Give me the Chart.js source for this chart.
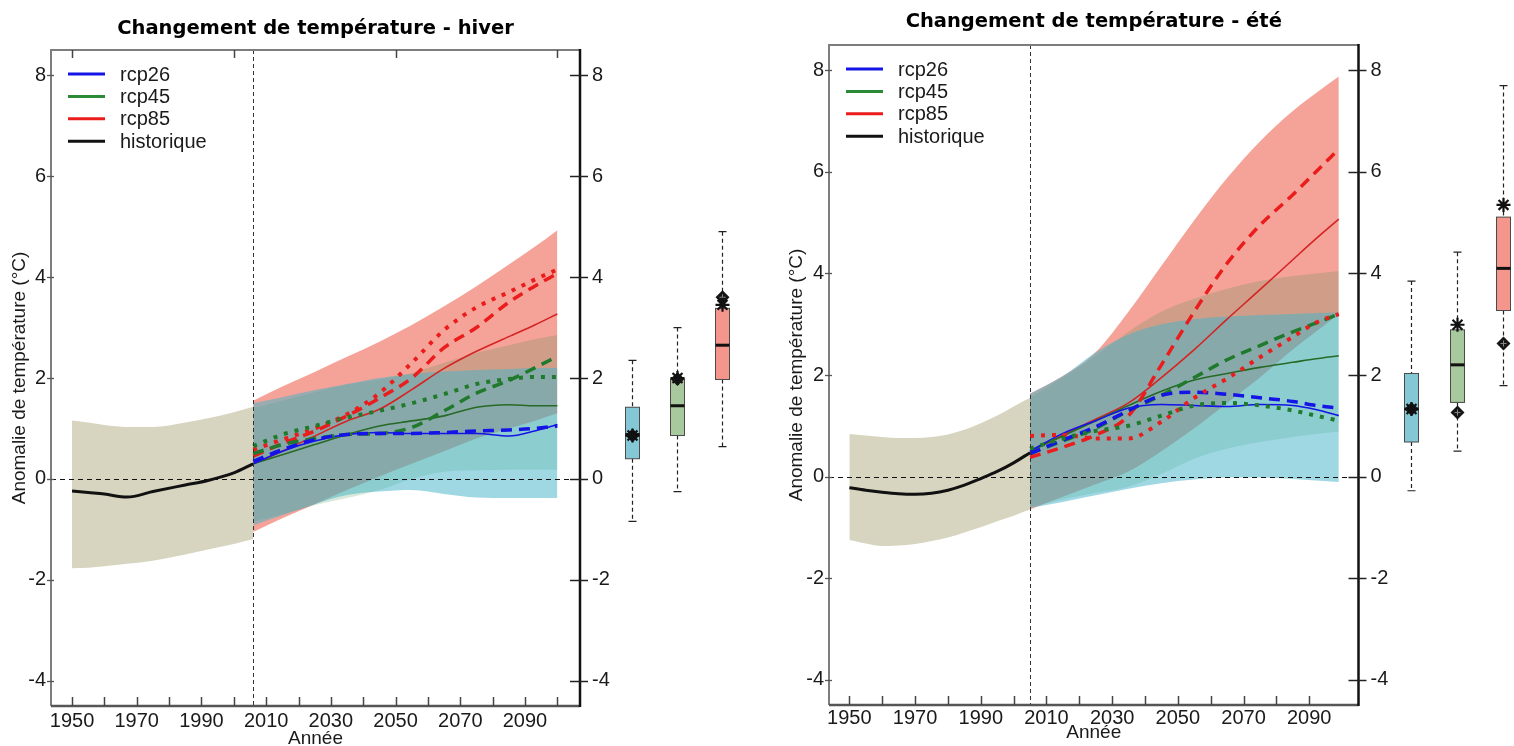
<!DOCTYPE html>
<html>
<head>
<meta charset="utf-8">
<script src="https://cdn.jsdelivr.net/npm/chart.js@4.4.1/dist/chart.umd.min.js"></script>
<style>
html,body{margin:0;padding:0;background:#fff;}
#wrap{position:relative;width:1514px;height:746px;overflow:hidden;background:#fff;}
canvas{position:absolute;top:0;}
</style>
</head>
<body>
<div id="wrap">
<canvas id="c1" width="760" height="746" style="left:0px"></canvas>
<canvas id="c2" width="754" height="746" style="left:760px"></canvas>
</div>
<script>
// ---------- shared labels / ticks ----------
const legendNames = ['rcp26', 'rcp45', 'rcp85', 'historique'];
const xLabelYears = [1950, 1970, 1990, 2010, 2030, 2050, 2070, 2090];
const yTickValues = [-4, -2, 0, 2, 4, 6, 8];
const hiverMinorTicks = [1950, 1960, 1970, 1980, 1990, 2000, 2010, 2020, 2030, 2040, 2050, 2060, 2070, 2080, 2090, 2100];
const eteMinorTicks = [1950, 1960, 1970, 1980, 1990, 2000, 2010, 2020, 2030, 2040, 2050, 2060, 2070, 2080, 2090];
const hiverTopTicks = [1950, 2000, 2050, 2100];
const eteTopTicks = [];
const hiverSplitYear = 2006;
const eteSplitYear = 2005;

// ---------- HIVER ----------
const hiverHistYears = [1950, 1955, 1960, 1967, 1975, 1985, 1992, 2000, 2006];
const hiverHistMean  = [-0.24, -0.27, -0.30, -0.36, -0.25, -0.12, -0.03, 0.12, 0.30];
const hiverHistUpper = [1.16, 1.12, 1.07, 1.03, 1.03, 1.12, 1.20, 1.32, 1.43];
const hiverHistLower = [-1.77, -1.76, -1.73, -1.68, -1.62, -1.50, -1.40, -1.29, -1.19];

const hiverFutYears   = [2006, 2015, 2025, 2035, 2045, 2055, 2065, 2075, 2085, 2093, 2100];
const hiverRcp26Mean  = [0.30, 0.55, 0.75, 0.88, 0.92, 0.90, 0.90, 0.90, 0.85, 0.95, 1.08];
const hiverRcp26Dash  = [0.35, 0.58, 0.78, 0.88, 0.90, 0.90, 0.92, 0.95, 0.97, 1.00, 1.05];
const hiverRcp26Upper = [1.50, 1.62, 1.76, 1.88, 2.00, 2.08, 2.13, 2.16, 2.18, 2.20, 2.20];
const hiverRcp26Lower = [-0.92, -0.72, -0.50, -0.32, -0.25, -0.22, -0.30, -0.37, -0.38, -0.38, -0.38];
const hiverRcp45Mean  = [0.30, 0.48, 0.68, 0.88, 1.05, 1.15, 1.25, 1.42, 1.47, 1.45, 1.45];
const hiverRcp45Dash  = [0.50, 0.68, 0.80, 0.88, 0.90, 1.02, 1.35, 1.70, 1.95, 2.20, 2.43];
const hiverRcp45Dot   = [0.65, 0.88, 1.05, 1.22, 1.35, 1.50, 1.68, 1.88, 1.98, 2.02, 2.02];
const hiverRcp45Upper = [1.40, 1.55, 1.72, 1.87, 1.97, 2.10, 2.30, 2.50, 2.65, 2.77, 2.85];
const hiverRcp45Lower = [-0.85, -0.70, -0.52, -0.38, -0.22, 0.00, 0.14, 0.17, 0.18, 0.18, 0.18];
const hiverRcp85Mean  = [0.30, 0.55, 0.85, 1.15, 1.38, 1.77, 2.19, 2.53, 2.82, 3.05, 3.27];
const hiverRcp85Dash  = [0.45, 0.70, 0.95, 1.25, 1.60, 2.00, 2.60, 3.00, 3.50, 3.82, 4.07];
const hiverRcp85Dot   = [0.58, 0.78, 1.00, 1.28, 1.70, 2.30, 2.95, 3.40, 3.70, 3.95, 4.15];
const hiverRcp85Upper = [1.55, 1.83, 2.12, 2.42, 2.72, 3.05, 3.42, 3.82, 4.25, 4.60, 4.93];
const hiverRcp85Lower = [-1.05, -0.78, -0.50, -0.22, 0.05, 0.30, 0.55, 0.80, 1.00, 1.15, 1.30];

// boxplots (rcp26, rcp45, rcp85)
const hiverBoxMin     = [-0.84, -0.25, 0.64];
const hiverBoxQ1      = [0.40, 0.86, 1.97];
const hiverBoxMedian  = [0.88, 1.45, 2.65];
const hiverBoxQ3      = [1.42, 1.98, 3.38];
const hiverBoxMax     = [2.35, 3.00, 4.90];
const hiverBoxStar    = [0.86, 2.00, 3.45];
const hiverBoxDiamond = [0.86, 1.98, 3.60];

// ---------- ETE ----------
const eteHistYears = [1950, 1955, 1960, 1965, 1970, 1975, 1980, 1985, 1990, 1995, 2000, 2005];
const eteHistMean  = [-0.22, -0.27, -0.31, -0.34, -0.35, -0.33, -0.27, -0.17, -0.04, 0.10, 0.27, 0.47];
const eteHistUpper = [0.84, 0.81, 0.78, 0.76, 0.76, 0.78, 0.83, 0.92, 1.05, 1.20, 1.38, 1.55];
const eteHistLower = [-1.25, -1.32, -1.37, -1.36, -1.33, -1.27, -1.20, -1.10, -1.00, -0.88, -0.77, -0.65];

const eteFutYears   = [2005, 2015, 2025, 2035, 2045, 2055, 2065, 2075, 2085, 2092, 2099];
const eteRcp26Mean  = [0.50, 0.85, 1.10, 1.35, 1.42, 1.40, 1.38, 1.42, 1.40, 1.32, 1.20];
const eteRcp26Dash  = [0.45, 0.72, 0.98, 1.30, 1.60, 1.66, 1.62, 1.55, 1.48, 1.40, 1.35];
const eteRcp26Upper = [1.63, 1.98, 2.45, 2.80, 3.00, 3.10, 3.15, 3.18, 3.20, 3.22, 3.23];
const eteRcp26Lower = [-0.62, -0.50, -0.37, -0.24, -0.13, -0.06, -0.02, -0.02, -0.05, -0.08, -0.11];
const eteRcp45Mean  = [0.50, 0.80, 1.10, 1.40, 1.68, 1.90, 2.03, 2.15, 2.25, 2.32, 2.38];
const eteRcp45Dash  = [0.45, 0.70, 0.95, 1.30, 1.60, 1.95, 2.30, 2.58, 2.85, 3.02, 3.20];
const eteRcp45Dot   = [0.55, 0.75, 0.90, 1.00, 1.20, 1.40, 1.45, 1.40, 1.30, 1.20, 1.10];
const eteRcp45Upper = [1.55, 1.95, 2.38, 2.85, 3.25, 3.50, 3.70, 3.85, 3.95, 4.00, 4.05];
const eteRcp45Lower = [-0.60, -0.45, -0.32, -0.20, 0.05, 0.35, 0.55, 0.68, 0.78, 0.84, 0.88];
const eteRcp85Mean  = [0.50, 0.82, 1.13, 1.45, 1.95, 2.50, 3.10, 3.68, 4.27, 4.68, 5.07];
const eteRcp85Dash  = [0.38, 0.58, 0.82, 1.20, 2.20, 3.25, 4.20, 4.95, 5.55, 6.00, 6.45];
const eteRcp85Dot   = [0.80, 0.82, 0.75, 0.75, 1.08, 1.55, 1.93, 2.35, 2.75, 3.03, 3.20];
const eteRcp85Upper = [1.63, 1.98, 2.45, 3.25, 4.15, 5.05, 5.88, 6.60, 7.20, 7.55, 7.88];
const eteRcp85Lower = [-0.65, -0.40, -0.15, 0.10, 0.50, 0.95, 1.45, 1.95, 2.50, 2.85, 3.20];

const eteBoxMin     = [-0.28, 0.50, 1.79];
const eteBoxQ1      = [0.68, 1.46, 3.27];
const eteBoxMedian  = [1.33, 2.20, 4.10];
const eteBoxQ3      = [2.03, 2.89, 5.11];
const eteBoxMax     = [3.85, 4.42, 7.70];
const eteBoxStar    = [1.33, 2.99, 5.35];
const eteBoxDiamond = [1.33, 1.26, 2.62];

// ---------- styles ----------
const FONT = "'Liberation Sans', Arial, sans-serif";
const TITLE_FONT = "'DejaVu Sans', Verdana, sans-serif";
const C = {
  blue: '#1414e6', green: '#1f7a2c', greenThin: '#276a27', red: '#ea1c1c', redThin: '#d42424', black: '#111111',
  histBand: 'rgb(215,213,191)',
  band85: 'rgba(236,72,50,0.50)', band45: 'rgba(60,140,70,0.20)', band26: 'rgba(70,180,200,0.52)',
  legend: ['#1414e6', '#2a8a36', '#ea1c1c', '#111111'],
  box: ['rgb(132,200,214)', 'rgb(168,200,158)', 'rgb(245,150,140)']
};
const boxSlots = [16, 30, 44];

function pts(xs, ys) { return xs.map((x, i) => ({x: x, y: ys[i]})); }
function line(xs, ys, color, kind, order) {
  const d = {data: pts(xs, ys), borderColor: color, pointRadius: 0, fill: false,
             cubicInterpolationMode: 'monotone', order: order, borderCapStyle: 'butt'};
  if (kind === 'solid') d.borderWidth = 1.6;
  if (kind === 'dash') { d.borderWidth = 3.5; d.borderDash = [11, 7]; }
  if (kind === 'dot') { d.borderWidth = 4; d.borderDash = [4, 7]; }
  if (kind === 'hist') d.borderWidth = 3;
  return d;
}
function band(xs, lo, hi, color, order) {
  return [
    {data: pts(xs, lo), borderWidth: 0, borderColor: 'rgba(0,0,0,0)', pointRadius: 0, fill: false,
     cubicInterpolationMode: 'monotone', order: order},
    {data: pts(xs, hi), borderWidth: 0, borderColor: 'rgba(0,0,0,0)', pointRadius: 0, fill: '-1',
     backgroundColor: color, cubicInterpolationMode: 'monotone', order: order}
  ];
}

function framePlugin(L) {
  return {
    id: 'frame' + L.id,
    afterDatasetsDraw(chart) {
      const ctx = chart.ctx, a = chart.chartArea, x = chart.scales.x, y = chart.scales.y;
      ctx.save();
      ctx.lineWidth = 1;
      ctx.setLineDash([5, 4]);
      ctx.strokeStyle = '#111';
      const y0 = Math.round(y.getPixelForValue(0)) + 0.5;
      ctx.beginPath(); ctx.moveTo(a.left, y0); ctx.lineTo(a.right, y0); ctx.stroke();
      ctx.setLineDash([4, 3]);
      ctx.strokeStyle = '#333';
      const xs = Math.round(x.getPixelForValue(L.split)) + 0.5;
      ctx.beginPath(); ctx.moveTo(xs, a.top); ctx.lineTo(xs, a.bottom); ctx.stroke();
      ctx.restore();
    },
    afterDraw(chart) {
      const ctx = chart.ctx, a = chart.chartArea, x = chart.scales.x, y = chart.scales.y;
      ctx.save();
      ctx.setLineDash([]);
      // frame
      ctx.strokeStyle = 'rgb(125,125,125)'; ctx.lineWidth = 2;
      ctx.beginPath(); ctx.moveTo(a.left, a.bottom); ctx.lineTo(a.left, a.top); ctx.lineTo(a.right, a.top); ctx.stroke();
      ctx.strokeStyle = 'rgb(85,85,85)'; ctx.lineWidth = 2.5;
      ctx.beginPath(); ctx.moveTo(a.left, a.bottom); ctx.lineTo(a.right, a.bottom); ctx.stroke();
      ctx.strokeStyle = '#111'; ctx.lineWidth = 2.5;
      ctx.beginPath(); ctx.moveTo(a.right, a.top - 1); ctx.lineTo(a.right, a.bottom + 1); ctx.stroke();
      // x ticks (inward)
      ctx.strokeStyle = '#444'; ctx.lineWidth = 1.5;
      L.minorTicks.forEach(v => {
        const px = Math.round(x.getPixelForValue(v)) + 0.5;
        ctx.beginPath(); ctx.moveTo(px, a.bottom); ctx.lineTo(px, a.bottom - 9); ctx.stroke();
      });
      L.topTicks.forEach(v => {
        const px = Math.round(x.getPixelForValue(v)) + 0.5;
        ctx.beginPath(); ctx.moveTo(px, a.top); ctx.lineTo(px, a.top + 8); ctx.stroke();
      });
      // y ticks
      yTickValues.forEach(v => {
        const py = Math.round(y.getPixelForValue(v)) + 0.5;
        ctx.strokeStyle = '#555'; ctx.lineWidth = 1.3;
        ctx.beginPath(); ctx.moveTo(a.left - 4, py); ctx.lineTo(a.left + 3, py); ctx.stroke();
        ctx.strokeStyle = '#222'; ctx.lineWidth = 1.5;
        ctx.beginPath(); ctx.moveTo(a.right - 10, py); ctx.lineTo(a.right + 8, py); ctx.stroke();
      });
      // legend
      ctx.font = '20px ' + FONT;
      ctx.textBaseline = 'middle';
      ctx.textAlign = 'left';
      legendNames.forEach((n, i) => {
        const ly = a.top + 24 + i * 22.4;
        ctx.strokeStyle = C.legend[i]; ctx.lineWidth = 3;
        ctx.beginPath(); ctx.moveTo(a.left + 17, ly); ctx.lineTo(a.left + 54, ly); ctx.stroke();
        ctx.fillStyle = '#1a1a1a';
        ctx.fillText(n, a.left + 69, ly + 1);
      });
      // boxplots
      const B = L.box;
      for (let i = 0; i < 3; i++) {
        const cx = Math.round(x.getPixelForValue(x.max + boxSlots[i])) + 0.5;
        const hw = 7;
        const pMin = y.getPixelForValue(B.min[i]), pQ1 = y.getPixelForValue(B.q1[i]);
        const pMed = y.getPixelForValue(B.med[i]), pQ3 = y.getPixelForValue(B.q3[i]);
        const pMax = y.getPixelForValue(B.max[i]);
        ctx.strokeStyle = '#222'; ctx.lineWidth = 1.2;
        ctx.setLineDash([4, 3]);
        ctx.beginPath(); ctx.moveTo(cx, pMax); ctx.lineTo(cx, pQ3); ctx.moveTo(cx, pQ1); ctx.lineTo(cx, pMin); ctx.stroke();
        ctx.setLineDash([]);
        ctx.beginPath(); ctx.moveTo(cx - 4, pMax); ctx.lineTo(cx + 4, pMax); ctx.moveTo(cx - 4, pMin); ctx.lineTo(cx + 4, pMin); ctx.stroke();
        ctx.fillStyle = C.box[i];
        ctx.fillRect(cx - hw, pQ3, hw * 2, pQ1 - pQ3);
        ctx.strokeStyle = '#4a4a4a'; ctx.lineWidth = 1;
        ctx.strokeRect(cx - hw, pQ3, hw * 2, pQ1 - pQ3);
        ctx.strokeStyle = '#111'; ctx.lineWidth = 3;
        ctx.beginPath(); ctx.moveTo(cx - hw, pMed); ctx.lineTo(cx + hw, pMed); ctx.stroke();
        // diamond
        const pd = y.getPixelForValue(B.diamond[i]);
        ctx.fillStyle = '#151515';
        ctx.beginPath(); ctx.moveTo(cx, pd - 7); ctx.lineTo(cx + 7, pd); ctx.lineTo(cx, pd + 7); ctx.lineTo(cx - 7, pd); ctx.closePath(); ctx.fill();
        ctx.strokeStyle = '#888'; ctx.lineWidth = 1;
        ctx.beginPath(); ctx.moveTo(cx - 3, pd); ctx.lineTo(cx + 3, pd); ctx.moveTo(cx, pd - 3); ctx.lineTo(cx, pd + 3); ctx.stroke();
        // asterisk
        const ps = y.getPixelForValue(B.star[i]);
        ctx.strokeStyle = '#111'; ctx.lineWidth = 2.2;
        ctx.beginPath();
        for (let k = 0; k < 4; k++) {
          const ang = k * Math.PI / 4, r = 7;
          ctx.moveTo(cx - r * Math.cos(ang), ps - r * Math.sin(ang));
          ctx.lineTo(cx + r * Math.cos(ang), ps + r * Math.sin(ang));
        }
        ctx.stroke();
      }
      ctx.restore();
    }
  };
}

function buildChart(canvasId, L, S) {
  const datasets = [].concat(
    [line(S.histYears, S.histMean, C.black, 'hist', 0)],
    [line(S.futYears, S.r26Mean, C.blue, 'solid', 3), line(S.futYears, S.r26Dash, C.blue, 'dash', 2)],
    [line(S.futYears, S.r45Mean, C.greenThin, 'solid', 3), line(S.futYears, S.r45Dash, C.green, 'dash', 2), line(S.futYears, S.r45Dot, C.green, 'dot', 1)],
    [line(S.futYears, S.r85Mean, C.redThin, 'solid', 3), line(S.futYears, S.r85Dash, C.red, 'dash', 2), line(S.futYears, S.r85Dot, C.red, 'dot', 1)],
    band(S.futYears, S.r26Lower, S.r26Upper, C.band26, 30),
    band(S.futYears, S.r45Lower, S.r45Upper, C.band45, 40),
    band(S.futYears, S.r85Lower, S.r85Upper, C.band85, 50),
    band(S.histYears, S.histLower, S.histUpper, C.histBand, 60)
  );
  const tickFont = {family: FONT, size: 20};
  return new Chart(document.getElementById(canvasId), {
    type: 'line',
    data: {datasets: datasets},
    options: {
      responsive: false, animation: false, devicePixelRatio: 1,
      layout: {padding: {left: 0, right: L.padRight, top: 0, bottom: 0}},
      plugins: {
        legend: {display: false}, tooltip: {enabled: false},
        title: {display: true, text: L.title, fullSize: false, color: '#000',
                font: {family: TITLE_FONT, size: 19.5, weight: 'bold', lineHeight: 1.2},
                padding: {top: L.titlePadTop, bottom: L.titlePadBottom}}
      },
      scales: {
        x: {type: 'linear', position: 'bottom', min: L.xmin, max: L.xmax,
            afterBuildTicks: s => { s.ticks = xLabelYears.map(v => ({value: v})); },
            afterFit: s => { s.height = L.xAxisH; },
            grid: {display: false}, border: {display: false},
            ticks: {autoSkip: false, maxRotation: 0, minRotation: 0, padding: L.xTickPad, color: '#1a1a1a', font: tickFont,
                    callback: v => String(v)},
            title: {display: true, text: 'Année', color: '#1a1a1a', font: {family: FONT, size: 19, lineHeight: 1},
                    padding: {top: 0, bottom: L.xTitlePadB}}},
        y: {type: 'linear', position: 'left', min: -4.5, max: 8.5,
            afterBuildTicks: s => { s.ticks = yTickValues.map(v => ({value: v})); },
            afterFit: s => { s.width = L.yAxisW; },
            grid: {display: false}, border: {display: false},
            ticks: {padding: -3, color: '#1a1a1a', font: tickFont, callback: v => String(v)},
            title: {display: true, text: 'Anomalie de température (°C)', color: '#1a1a1a',
                    font: {family: FONT, size: 19, lineHeight: 1.2}, padding: {top: L.yTitlePadTop, bottom: 0}}},
        y2: {type: 'linear', position: 'right', min: -4.5, max: 8.5,
             afterBuildTicks: s => { s.ticks = yTickValues.map(v => ({value: v})); },
             afterFit: s => { s.width = 40; },
             grid: {display: false}, border: {display: false},
             ticks: {padding: 4, color: '#1a1a1a', font: tickFont, callback: v => String(v)}}
      }
    },
    plugins: [framePlugin(L)]
  });
}

buildChart('c1', {
  id: 'h', title: 'Changement de température - hiver', padRight: 140, xmin: 1943.5, xmax: 2107,
  titlePadTop: 17.3, titlePadBottom: 9.3, xAxisH: 40, xTickPad: -5, xTitlePadB: -2.5, yAxisW: 51, yTitlePadTop: 8.6,
  split: hiverSplitYear, minorTicks: hiverMinorTicks, topTicks: hiverTopTicks,
  box: {min: hiverBoxMin, q1: hiverBoxQ1, med: hiverBoxMedian, q3: hiverBoxQ3, max: hiverBoxMax, star: hiverBoxStar, diamond: hiverBoxDiamond}
}, {
  histYears: hiverHistYears, histMean: hiverHistMean, histUpper: hiverHistUpper, histLower: hiverHistLower,
  futYears: hiverFutYears,
  r26Mean: hiverRcp26Mean, r26Dash: hiverRcp26Dash, r26Upper: hiverRcp26Upper, r26Lower: hiverRcp26Lower,
  r45Mean: hiverRcp45Mean, r45Dash: hiverRcp45Dash, r45Dot: hiverRcp45Dot, r45Upper: hiverRcp45Upper, r45Lower: hiverRcp45Lower,
  r85Mean: hiverRcp85Mean, r85Dash: hiverRcp85Dash, r85Dot: hiverRcp85Dot, r85Upper: hiverRcp85Upper, r85Lower: hiverRcp85Lower
});

buildChart('c2', {
  id: 'e', title: 'Changement de température - été', padRight: 115.5, xmin: 1943.8, xmax: 2105,
  titlePadTop: 10.3, titlePadBottom: 11.3, xAxisH: 41, xTickPad: -6.5, xTitlePadB: 3.5, yAxisW: 69, yTitlePadTop: 25.6,
  split: eteSplitYear, minorTicks: eteMinorTicks, topTicks: eteTopTicks,
  box: {min: eteBoxMin, q1: eteBoxQ1, med: eteBoxMedian, q3: eteBoxQ3, max: eteBoxMax, star: eteBoxStar, diamond: eteBoxDiamond}
}, {
  histYears: eteHistYears, histMean: eteHistMean, histUpper: eteHistUpper, histLower: eteHistLower,
  futYears: eteFutYears,
  r26Mean: eteRcp26Mean, r26Dash: eteRcp26Dash, r26Upper: eteRcp26Upper, r26Lower: eteRcp26Lower,
  r45Mean: eteRcp45Mean, r45Dash: eteRcp45Dash, r45Dot: eteRcp45Dot, r45Upper: eteRcp45Upper, r45Lower: eteRcp45Lower,
  r85Mean: eteRcp85Mean, r85Dash: eteRcp85Dash, r85Dot: eteRcp85Dot, r85Upper: eteRcp85Upper, r85Lower: eteRcp85Lower
});
</script>
</body>
</html>
